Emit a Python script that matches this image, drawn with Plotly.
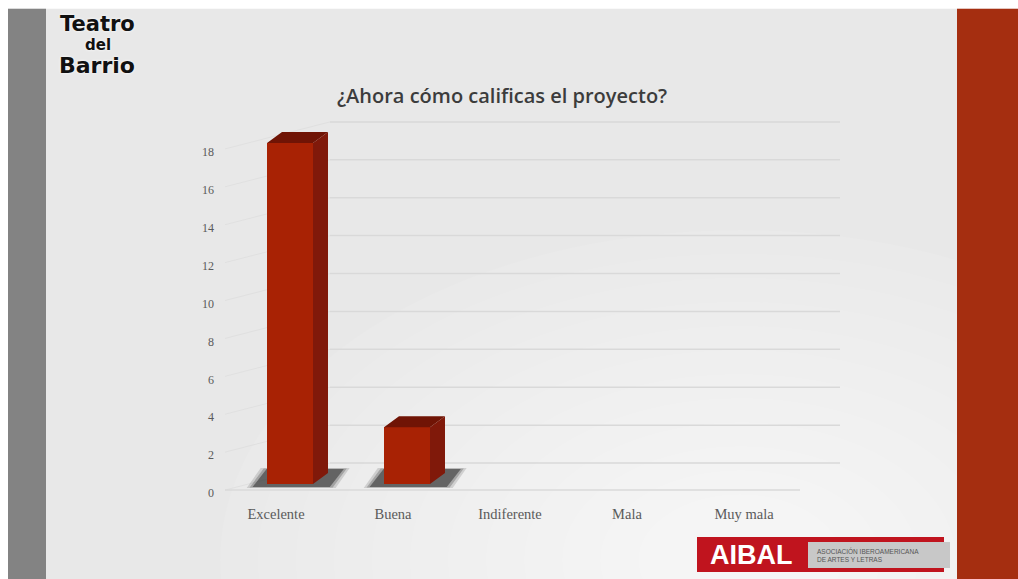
import plotly.graph_objects as go

# ---- data -------------------------------------------------------------
categories = ["Excelente", "Buena", "Indiferente", "Mala", "Muy mala"]
votes = [18, 3, 0, 0, 0]
y_ticks = [0, 2, 4, 6, 8, 10, 12, 14, 16, 18]
chart_title = "¿Ahora cómo calificas el proyecto?"

# ---- page geometry (pixels) ------------------------------------------
FIG_W, FIG_H = 1018, 579
X0_PX, X_STEP = 290.0, 117.0      # centre of first bar, spacing between bars
Y0_PX, Y_UNIT = 484.0, 18.94      # floor of bars, pixels per vote
L = 215
R = FIG_W - 840
T = Y0_PX - 20 * Y_UNIT
B = FIG_H - (Y0_PX + Y_UNIT)
PW = FIG_W - L - R
PH = FIG_H - T - B

X_RANGE = [(L - X0_PX) / X_STEP, (FIG_W - R - X0_PX) / X_STEP]
Y_RANGE = [-1, 20]


def px_x(px):
    """figure pixel -> paper x"""
    return (px - L) / PW


def px_y(py):
    """figure pixel (from top) -> paper y"""
    return (FIG_H - B - py) / PH


def dx(px):
    return px / X_STEP


def dy(px):
    return px / Y_UNIT


positions = list(range(len(categories)))

# 3D box proportions, in data units
BAR_W = dx(46)
DEPTH_X = dx(15)
DEPTH_Y = dy(11)

FRONT = "#A82204"
SIDE = "#80190A"
TOP = "#701405"

SERIF = "Liberation Serif, DejaVu Serif, serif"

fig = go.Figure()

# ---- back wall / floor guides (lower subplot) -------------------------
WALL_FRONT_X = dx(225 - X0_PX)
WALL_BACK_X = dx(330 - X0_PX)
WALL_END_X = dx(840 - X0_PX)
FLOOR_FRONT_Y = -dy(6)
BACK_LIFT = dy(21)

grid_x, grid_y, wall_x, wall_y = [], [], [], []
for v in y_ticks:
    grid_x += [WALL_BACK_X, WALL_END_X, None]
    grid_y += [v + BACK_LIFT, v + BACK_LIFT, None]
    wall_x += [WALL_FRONT_X, WALL_BACK_X, None]
    wall_y += [v + FLOOR_FRONT_Y, v + BACK_LIFT, None]

fig.add_trace(go.Scatter(x=wall_x, y=wall_y, mode="lines",
                         line=dict(color="#E0E0E0", width=1),
                         hoverinfo="skip", showlegend=False))
fig.add_trace(go.Scatter(x=grid_x, y=grid_y, mode="lines",
                         line=dict(color="#D9D9D9", width=1.5),
                         hoverinfo="skip", showlegend=False))
fig.add_trace(go.Scatter(x=[WALL_FRONT_X, dx(800 - X0_PX)],
                         y=[FLOOR_FRONT_Y, FLOOR_FRONT_Y], mode="lines",
                         line=dict(color="#DADADA", width=1.5),
                         hoverinfo="skip", showlegend=False))

# soft shadows under the bars
for grow, alpha in [(0.05, 0.15), (0.025, 0.25), (0.0, 0.5)]:
    sx, sy = [], []
    for c, v in zip(positions, votes):
        if v <= 0:
            continue
        sx += [c - 0.32 - grow, c + 0.34 + grow, c + 0.46 + grow,
               c - 0.20 - grow, c - 0.32 - grow, None]
        sy += [-0.16 - grow, -0.16 - grow, 0.8 + grow, 0.8 + grow,
               -0.16 - grow, None]
    fig.add_trace(go.Scatter(x=sx, y=sy, mode="lines", fill="toself",
                             fillcolor=f"rgba(35,35,35,{alpha})",
                             line=dict(width=0), hoverinfo="skip",
                             showlegend=False))

# ---- bars (overlay subplot, drawn above the guides) -------------------
fig.add_trace(go.Bar(x=positions, y=votes, width=BAR_W,
                     marker=dict(color=FRONT, line=dict(width=0)),
                     hovertext=categories, showlegend=False,
                     xaxis="x2", yaxis="y2"))

side_x, side_y, top_x, top_y = [], [], [], []
for c, v in zip(positions, votes):
    if v <= 0:
        continue
    xl, xr = c - BAR_W / 2, c + BAR_W / 2
    side_x += [xr, xr + DEPTH_X, xr + DEPTH_X, xr, xr, None]
    side_y += [0, DEPTH_Y, v + DEPTH_Y, v, 0, None]
    top_x += [xl, xl + DEPTH_X, xr + DEPTH_X, xr, xl, None]
    top_y += [v, v + DEPTH_Y, v + DEPTH_Y, v, v, None]

fig.add_trace(go.Scatter(x=side_x, y=side_y, mode="lines", fill="toself",
                         fillcolor=SIDE, line=dict(width=0),
                         hoverinfo="skip", showlegend=False,
                         xaxis="x2", yaxis="y2"))
fig.add_trace(go.Scatter(x=top_x, y=top_y, mode="lines", fill="toself",
                         fillcolor=TOP, line=dict(width=0),
                         hoverinfo="skip", showlegend=False,
                         xaxis="x2", yaxis="y2"))

# ---- slide decoration --------------------------------------------------
shapes = []
shapes.append(dict(type="rect", xref="paper", yref="paper", layer="below",
                   x0=px_x(8), x1=px_x(FIG_W), y0=px_y(FIG_H), y1=px_y(9),
                   fillcolor="#E8E8E8", line=dict(width=0)))
# soft light towards the lower right
for k in range(12):
    rx = 520 - k * 38
    ry = 330 - k * 24
    cx, cy = 740, 560
    shapes.append(dict(type="circle", xref="paper", yref="paper", layer="below",
                       x0=px_x(cx - rx), x1=px_x(cx + rx),
                       y0=px_y(cy + ry), y1=px_y(cy - ry),
                       fillcolor="rgba(255,255,255,0.085)", line=dict(width=0)))
shapes.append(dict(type="rect", xref="paper", yref="paper", layer="below",
                   x0=px_x(8), x1=px_x(46), y0=px_y(FIG_H), y1=px_y(9),
                   fillcolor="#838383", line=dict(width=0)))
shapes.append(dict(type="rect", xref="paper", yref="paper", layer="below",
                   x0=px_x(957), x1=px_x(FIG_W), y0=px_y(FIG_H), y1=px_y(9),
                   fillcolor="#A52E10", line=dict(width=0)))
# AIBAL badge
shapes.append(dict(type="rect", xref="paper", yref="paper", layer="above",
                   x0=px_x(697), x1=px_x(944), y0=px_y(572), y1=px_y(537),
                   fillcolor="#C0141E", line=dict(width=0)))
shapes.append(dict(type="rect", xref="paper", yref="paper", layer="above",
                   x0=px_x(808), x1=px_x(950), y0=px_y(568), y1=px_y(542),
                   fillcolor="#C8C8C8", line=dict(width=0)))

annotations = [
    dict(text=chart_title, xref="paper", yref="paper", x=px_x(502), y=px_y(96),
         showarrow=False, xanchor="center", yanchor="middle",
         font=dict(family="Open Sans, sans-serif", size=20, color="#3C3C3C",
                   weight=600)),
    dict(text="AIBAL", xref="paper", yref="paper", x=px_x(751), y=px_y(555),
         showarrow=False, xanchor="center", yanchor="middle",
         font=dict(family="Liberation Sans, Arial, sans-serif", size=27,
                   color="#FFFFFF", weight=700)),
    dict(text="ASOCIACIÓN IBEROAMERICANA<br>DE ARTES Y LETRAS", xref="paper",
         yref="paper", x=px_x(815), y=px_y(555), showarrow=False,
         xanchor="left", yanchor="middle", align="left",
         font=dict(family="Liberation Sans, Arial, sans-serif", size=6.5,
                   color="#555555")),
]
for word, cx, cy, size in [("Teatro", 97, 24, 21), ("del", 98, 45, 15),
                           ("Barrio", 97, 66, 22)]:
    annotations.append(dict(text=word, xref="paper", yref="paper",
                            x=px_x(cx), y=px_y(cy), showarrow=False,
                            xanchor="center", yanchor="middle",
                            font=dict(family="DejaVu Sans, sans-serif",
                                      size=size, color="#111111", weight=700,
                                      shadow="0 0 3px #ffffff")))

fig.update_layout(
    width=FIG_W, height=FIG_H,
    margin=dict(l=L, r=R, t=T, b=B, pad=0, autoexpand=False),
    paper_bgcolor="#FFFFFF", plot_bgcolor="rgba(0,0,0,0)",
    shapes=shapes, annotations=annotations,
    showlegend=False, bargap=0,
    xaxis=dict(range=X_RANGE, tickvals=positions, ticktext=categories,
               showgrid=False, zeroline=False, showline=False, ticks="",
               ticklabelshift=-14, fixedrange=True,
               tickfont=dict(family=SERIF, size=14.5, color="#5A5A5A")),
    yaxis=dict(range=Y_RANGE, tickvals=y_ticks, showgrid=False,
               zeroline=False, showline=False, ticks="",
               ticklabelshift=9, fixedrange=True,
               tickfont=dict(family=SERIF, size=12, color="#5A5A5A")),
    xaxis2=dict(range=X_RANGE, overlaying="x", visible=False, fixedrange=True),
    yaxis2=dict(range=Y_RANGE, overlaying="y", visible=False, fixedrange=True),
)

fig.write_html("out.html", config={"displayModeBar": False})
